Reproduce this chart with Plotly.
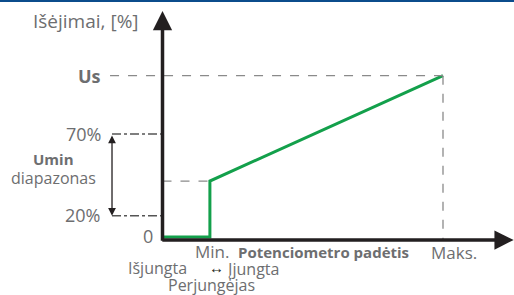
import plotly.graph_objects as go

# ---- data (schematic units: potentiometer position in % of max, output in % of Us)
pot_position = [0, 16.9, 16.9, 100]
output_level = [0, 0, 34.7, 100]
POS_MIN = 16.9
POS_MAX = 100
OUT_US = 100
OUT_HI = 63.9   # "70%"
OUT_LO = 13.2   # "20%"
OUT_STEP = 34.7
y_labels = ["0", "20%", "70%", "Us"]
x_labels = ["Min.", "Potenciometro padėtis", "Maks."]

W, H = 514, 295
X_RANGE = [-57.93, 125.31]
Y_RANGE = [-35.96, 146.93]
AXIS_Y = -1.86
BRACKET_X = -18.0

TXT = "#6d6e70"
AX = "#231f20"
GREEN = "#13a04b"
DASH = "#8a8a8a"
FONT = "Open Sans"


def px(x):
    return x / W


def py(y):
    return 1 - y / H


fig = go.Figure()
fig.add_trace(go.Scatter(x=pot_position, y=output_level, mode="lines",
                         line=dict(color=GREEN, width=3), hoverinfo="skip",
                         showlegend=False))

shapes = [
    # top blue rule
    dict(type="line", xref="paper", yref="paper", x0=0, x1=1, y0=py(1), y1=py(1),
         line=dict(color="#0b4c8c", width=2)),
    # Us dashed
    dict(type="line", x0=-18.7, x1=POS_MAX, y0=OUT_US, y1=OUT_US,
         line=dict(color=DASH, width=1.3, dash="dash")),
    # Max vertical dashed
    dict(type="line", x0=POS_MAX, x1=POS_MAX, y0=OUT_US, y1=AXIS_Y,
         line=dict(color=DASH, width=1.3, dash="dash")),
    # step dashed
    dict(type="line", x0=0, x1=POS_MIN, y0=OUT_STEP, y1=OUT_STEP,
         line=dict(color=DASH, width=1.3, dash="dash")),
    # 70% / 20% dash-dot
    dict(type="line", x0=BRACKET_X, x1=0, y0=OUT_HI, y1=OUT_HI,
         line=dict(color="#555555", width=1.5, dash="dashdot")),
    dict(type="line", x0=BRACKET_X, x1=0, y0=OUT_LO, y1=OUT_LO,
         line=dict(color="#555555", width=1.5, dash="dashdot")),
]

ann = []
# axes as arrows
ann.append(dict(x=0, y=140.1, ax=0, ay=-3.3, xref="x", yref="y", axref="x", ayref="y",
                text="", showarrow=True, arrowhead=2, arrowsize=1.1, arrowwidth=3.5,
                arrowcolor=AX, standoff=0))
ann.append(dict(x=125.2, y=AXIS_Y, ax=-0.6, ay=AXIS_Y, xref="x", yref="y", axref="x", ayref="y",
                text="", showarrow=True, arrowhead=2, arrowsize=1.1, arrowwidth=3.5,
                arrowcolor=AX, standoff=0))
# bracket double arrow
ann.append(dict(x=BRACKET_X, y=OUT_LO, ax=BRACKET_X, ay=OUT_HI, xref="x", yref="y",
                axref="x", ayref="y", text="", showarrow=True, arrowhead=2,
                arrowside="end+start", arrowsize=1.2, arrowwidth=1.3, arrowcolor=AX,
                standoff=0, startstandoff=0))


def txt(t, x, y, size, anchor="center", color=TXT):
    ann.append(dict(text=t, x=px(x), y=py(y), xref="paper", yref="paper",
                    xanchor=anchor, yanchor="middle", showarrow=False, borderpad=0,
                    font=dict(family=FONT, size=size, color=color)))


txt("Išėjimai, [%]", 85.5, 21, 19)
txt("<b>" + y_labels[3] + "</b>", 102, 75.5, 18, "right")
txt(y_labels[2], 101.5, 134, 18, "right")
txt("<b>Umin</b>", 53, 159, 15)
txt("diapazonas", 53, 178, 16)
txt(y_labels[1], 100.5, 215, 18, "right")
txt(y_labels[0], 153.5, 236, 18, "right")
txt(x_labels[0], 194, 251, 17, "left")
txt("<b>" + x_labels[1] + "</b>", 237, 252, 15, "left")
txt(x_labels[2], 430, 252, 17, "left")
txt("Išjungta", 127, 268, 16, "left")
txt("<b>↔</b>", 216.5, 267, 15, "center", AX)
txt("Įjungta", 227, 269, 16, "left")
txt("Perjungėjas", 167, 285, 16, "left")

fig.update_layout(
    width=W, height=H, margin=dict(l=0, r=0, t=0, b=0),
    paper_bgcolor="white", plot_bgcolor="white",
    xaxis=dict(range=X_RANGE, visible=False, fixedrange=True),
    yaxis=dict(range=Y_RANGE, visible=False, fixedrange=True),
    shapes=shapes, annotations=ann, showlegend=False,
)
fig.write_html("out.html", config=dict(displayModeBar=False),
               post_script="document.body.style.margin='0';document.body.style.padding='0';")
